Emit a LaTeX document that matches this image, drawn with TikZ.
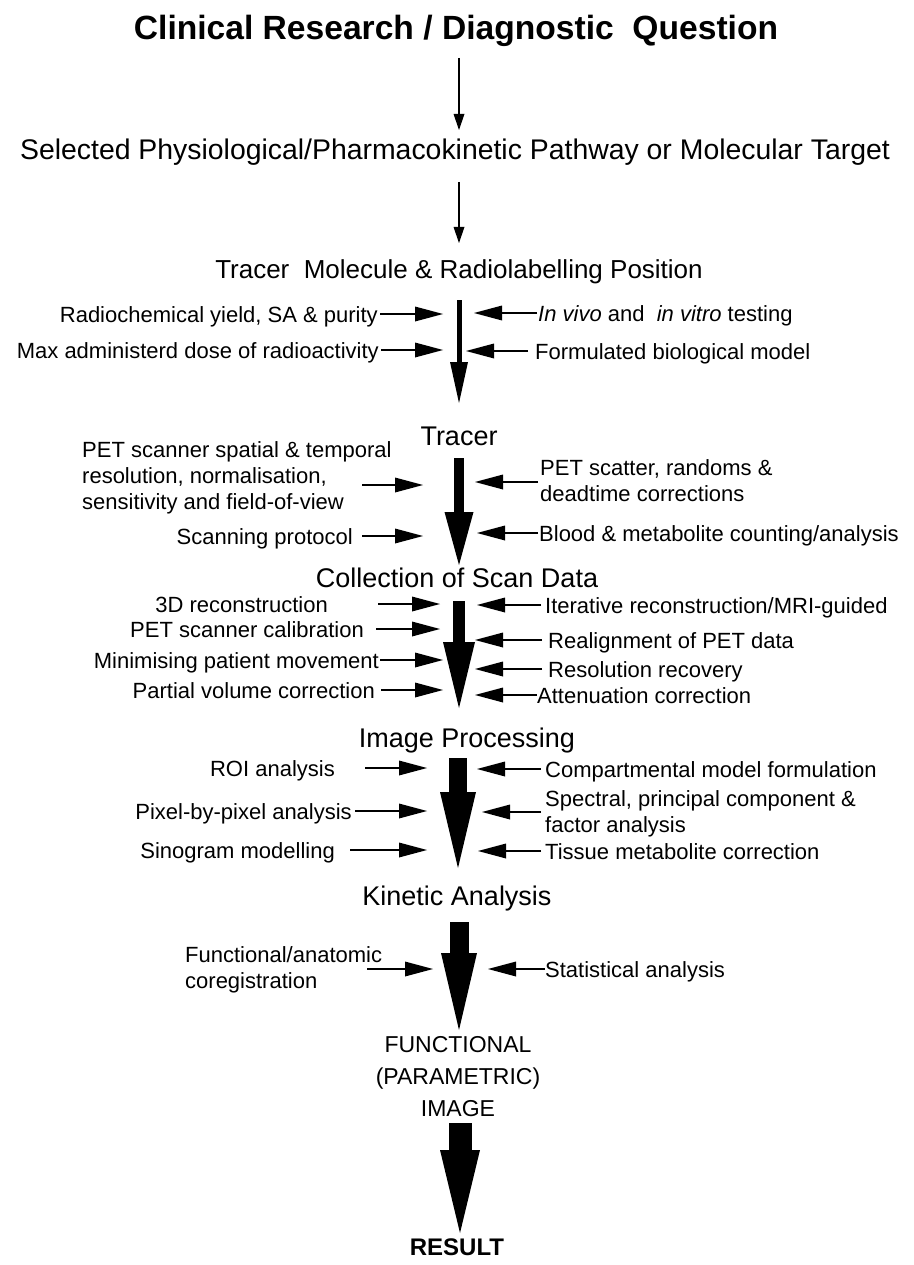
\documentclass[tikz,border=0pt]{standalone}
\usepackage{fontspec}
\setmainfont{Liberation Sans}
\usetikzlibrary{arrows.meta}
\tikzset{
  side/.style={font=\fontsize{22}{26}\selectfont, inner sep=0pt},
  lside/.style={side, anchor=mid east, yshift=-6pt},
  rside/.style={side, anchor=mid west, yshift=-6pt},
  stage/.style={font=\fontsize{27}{32}\selectfont, inner sep=0pt, anchor=mid, yshift=-6pt},
  sarrow/.style={line width=1.8pt, -{Triangle[length=28pt,width=15pt,line width=0pt]}},
  thinarrow/.style={line width=2pt, -{Triangle[length=16pt,width=11pt,line width=0pt]}},
  bigarrow/.style n args={3}{line width=#1, -{Triangle[length=#2,width=#3,line width=0pt]}},
}
\begin{document}
\begin{tikzpicture}[x=1pt,y=-1pt]
\useasboundingbox (0,0) rectangle (913,1265);

% ---------- main stages ----------
\node[stage, yshift=-1pt, font=\fontsize{33.6}{38}\selectfont\bfseries] (q) at (456,30) {Clinical Research / Diagnostic\ \ Question};
\node[stage, font=\fontsize{28.4}{33}\selectfont] (path) at (455,151) {Selected Physiological/Pharmacokinetic Pathway or Molecular Target};
\node[stage, font=\fontsize{26}{31}\selectfont] (tm) at (459,270) {Tracer\ \ Molecule \& Radiolabelling Position};
\node[stage] (tr) at (459,437) {Tracer};
\node[stage] (col) at (457,579) {Collection of Scan Data};
\node[stage] (ip) at (467,739) {Image Processing};
\node[stage] (ka) at (457,897) {Kinetic Analysis};
\node[inner sep=0pt, align=center, font=\fontsize{23}{32}\selectfont] (fi) at (458,1077) {FUNCTIONAL\\(PARAMETRIC)\\IMAGE};
\node[stage, yshift=2pt, font=\fontsize{24}{28}\selectfont\bfseries] (res) at (457,1249) {RESULT};

% ---------- central connectors ----------
\coordinate (c1s) at (459,58);   \coordinate (c1e) at (459,130);
\coordinate (c2s) at (459,182);  \coordinate (c2e) at (459,243);
\coordinate (c3s) at (459,300);  \coordinate (c3e) at (459,403);
\coordinate (c4s) at (459,458);  \coordinate (c4e) at (459,565);
\coordinate (c5s) at (459,601);  \coordinate (c5e) at (459,708);
\coordinate (c6s) at (458,758);  \coordinate (c6e) at (458,868);
\coordinate (c7s) at (459,922);  \coordinate (c7e) at (459,1030);
\coordinate (c8s) at (460,1123); \coordinate (c8e) at (460,1233);
\draw[thinarrow] (c1s) -- (c1e);
\draw[thinarrow] (c2s) -- (c2e);
\draw[bigarrow={5pt}{41pt}{18pt}] (c3s) -- (c3e);
\draw[bigarrow={10pt}{53pt}{29pt}] (c4s) -- (c4e);
\draw[bigarrow={12pt}{66pt}{32pt}] (c5s) -- (c5e);
\draw[bigarrow={18pt}{76pt}{36pt}] (c6s) -- (c6e);
\draw[bigarrow={19pt}{77pt}{36pt}] (c7s) -- (c7e);
\draw[bigarrow={23pt}{83pt}{40pt}] (c8s) -- (c8e);

% ---------- Tracer molecule inputs ----------
\node[lside] (a1) at (378,314) {Radiochemical yield, SA \& purity};
\coordinate (a1s) at (380,314); \coordinate (a1t) at (443,314);
\draw[sarrow] (a1s) -- (a1t);
\node[lside] (a2) at (379,350) {Max administerd dose of radioactivity};
\coordinate (a2s) at (381,350); \coordinate (a2t) at (443,350);
\draw[sarrow] (a2s) -- (a2t);
\node[rside] (a3) at (538,313) {\textit{In vivo} and\ \ \textit{in vitro} testing};
\coordinate (a3s) at (537,313); \coordinate (a3t) at (474,313);
\draw[sarrow] (a3s) -- (a3t);
\node[rside] (a4) at (535,351) {Formulated biological model};
\coordinate (a4s) at (528,351); \coordinate (a4t) at (466,351);
\draw[sarrow] (a4s) -- (a4t);

% ---------- Tracer inputs ----------
\node[side, anchor=west, align=left] (b1) at (82,478) {PET scanner spatial \& temporal\\resolution, normalisation,\\sensitivity and field-of-view};
\coordinate (b1s) at (362,485); \coordinate (b1t) at (423,485);
\draw[sarrow] (b1s) -- (b1t);
\node[lside] (b2) at (353,536) {Scanning protocol};
\coordinate (b2s) at (362,536); \coordinate (b2t) at (423,536);
\draw[sarrow] (b2s) -- (b2t);
\node[side, anchor=west, align=left] (b3) at (540,481) {PET scatter, randoms \&\\deadtime corrections};
\coordinate (b3s) at (538,482); \coordinate (b3t) at (475,482);
\draw[sarrow] (b3s) -- (b3t);
\node[rside] (b4) at (539,533) {Blood \& metabolite counting/analysis};
\coordinate (b4s) at (538,533); \coordinate (b4t) at (477,533);
\draw[sarrow] (b4s) -- (b4t);

% ---------- Collection inputs ----------
\node[lside] (d1) at (328,604) {3D reconstruction};
\coordinate (d1s) at (378,604); \coordinate (d1t) at (440,604);
\draw[sarrow] (d1s) -- (d1t);
\node[lside] (d2) at (364,629) {PET scanner calibration};
\coordinate (d2s) at (376,629); \coordinate (d2t) at (440,629);
\draw[sarrow] (d2s) -- (d2t);
\node[lside] (d3) at (379,660) {Minimising patient movement};
\coordinate (d3s) at (380,660); \coordinate (d3t) at (443,660);
\draw[sarrow] (d3s) -- (d3t);
\node[lside] (d4) at (375,690) {Partial volume correction};
\coordinate (d4s) at (381,690); \coordinate (d4t) at (443,690);
\draw[sarrow] (d4s) -- (d4t);
\node[rside] (d5) at (545,605) {Iterative reconstruction/MRI-guided};
\coordinate (d5s) at (541,605); \coordinate (d5t) at (477,605);
\draw[sarrow] (d5s) -- (d5t);
\node[rside] (d6) at (548,640) {Realignment of PET data};
\coordinate (d6s) at (542,640); \coordinate (d6t) at (475,640);
\draw[sarrow] (d6s) -- (d6t);
\node[rside] (d7) at (548,669) {Resolution recovery};
\coordinate (d7s) at (542,669); \coordinate (d7t) at (475,669);
\draw[sarrow] (d7s) -- (d7t);
\node[rside] (d8) at (537,695) {Attenuation correction};
\coordinate (d8s) at (537,695); \coordinate (d8t) at (475,695);
\draw[sarrow] (d8s) -- (d8t);

% ---------- Image processing inputs ----------
\node[lside] (e1) at (335,768) {ROI analysis};
\coordinate (e1s) at (365,768); \coordinate (e1t) at (427,768);
\draw[sarrow] (e1s) -- (e1t);
\node[lside] (e2) at (352,811) {Pixel-by-pixel analysis};
\coordinate (e2s) at (355,811); \coordinate (e2t) at (427,811);
\draw[sarrow] (e2s) -- (e2t);
\node[lside] (e3) at (335,850) {Sinogram modelling};
\coordinate (e3s) at (350,850); \coordinate (e3t) at (427,850);
\draw[sarrow] (e3s) -- (e3t);
\node[rside] (e4) at (545,769) {Compartmental model formulation};
\coordinate (e4s) at (541,769); \coordinate (e4t) at (477,769);
\draw[sarrow] (e4s) -- (e4t);
\node[side, anchor=west, align=left] (e5) at (545,814) {Spectral, principal component \&\\factor analysis};
\coordinate (e5s) at (541,812); \coordinate (e5t) at (482,812);
\draw[sarrow] (e5s) -- (e5t);
\node[rside] (e6) at (545,851) {Tissue metabolite correction};
\coordinate (e6s) at (541,851); \coordinate (e6t) at (478,851);
\draw[sarrow] (e6s) -- (e6t);

% ---------- Kinetic analysis inputs ----------
\node[side, anchor=west, align=left] (f1) at (185,970) {Functional/anatomic\\coregistration};
\coordinate (f1s) at (367,969); \coordinate (f1t) at (433,969);
\draw[sarrow] (f1s) -- (f1t);
\node[rside] (f2) at (545,969) {Statistical analysis};
\coordinate (f2s) at (545,969); \coordinate (f2t) at (488,969);
\draw[sarrow] (f2s) -- (f2t);
\end{tikzpicture}
\end{document}
